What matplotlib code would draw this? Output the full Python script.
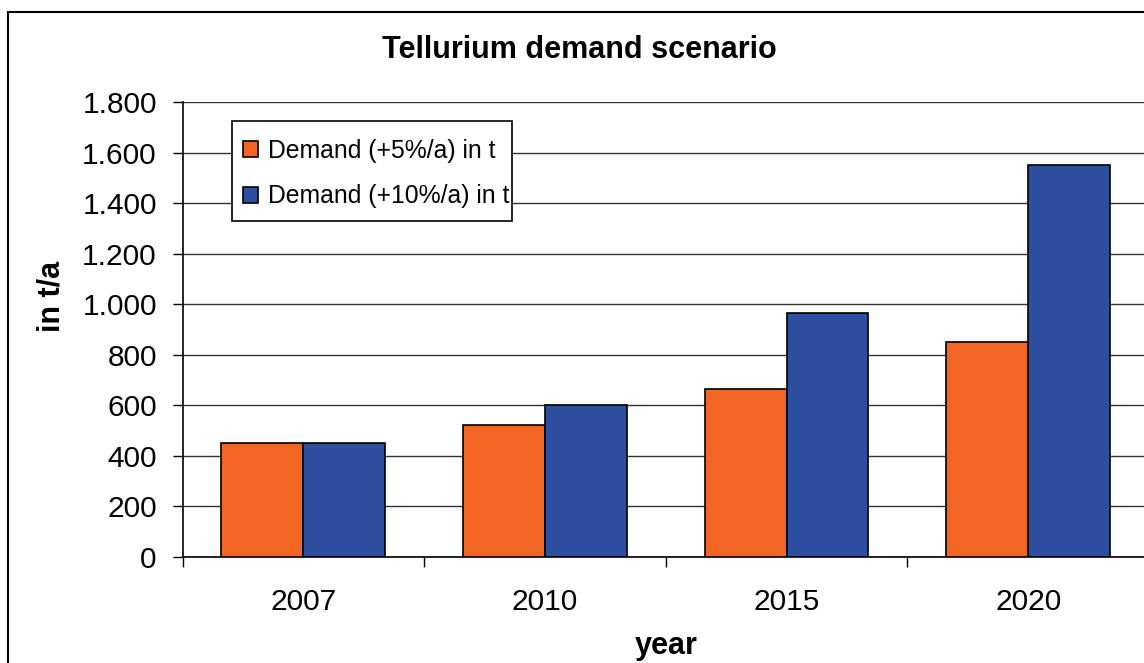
import matplotlib
matplotlib.use("Agg")
import matplotlib.pyplot as plt
from matplotlib.ticker import FuncFormatter, FixedLocator
from matplotlib.patches import Rectangle
import numpy as np

plt.rcParams['font.family'] = ['Liberation Sans', 'DejaVu Sans']

years = ["2007", "2010", "2015", "2020"]
demand_5 = [450, 521, 665, 848]
demand_10 = [450, 599, 965, 1551]
series_labels = ["Demand (+5%/a) in t", "Demand (+10%/a) in t"]
title = "Tellurium demand scenario"
xlabel = "year"
ylabel = "in t/a"

W, H = 1144, 663
fig = plt.figure(figsize=(W / 100, H / 100), dpi=100)

# figure border (cropped at right/bottom)
fig.patches.append(Rectangle((8 / W, -0.1), 1.2, 1 - 12 / H + 0.1, transform=fig.transFigure,
                             fill=False, edgecolor='black', lw=1.5, zorder=0))

ax = fig.add_axes([182.5 / W, 1 - 556.7 / H, 966.5 / W, (556.7 - 102) / H])

x = np.arange(len(years))
w = 0.339
ax.bar(x - w / 2, demand_5, w, color='#F26522', edgecolor='black', lw=1.2,
       label=series_labels[0], zorder=3)
ax.bar(x + w / 2, demand_10, w, color='#2E4F9F', edgecolor='black', lw=1.2,
       label=series_labels[1], zorder=3)

ax.set_xlim(-0.5, 3.5)
ax.set_ylim(0, 1800)
ax.set_yticks(np.arange(0, 1801, 200))
ax.yaxis.set_major_formatter(FuncFormatter(lambda v, p: f"{v:,.0f}".replace(",", ".")))
ax.grid(axis='y', color='#333333', lw=1.0, zorder=0)
ax.set_axisbelow(True)

ax.xaxis.set_major_locator(FixedLocator([-0.5, 0.5, 1.5, 2.5, 3.5]))
ax.xaxis.set_major_formatter(FuncFormatter(lambda v, p: ""))
ax.xaxis.set_minor_locator(FixedLocator(list(x)))
ax.set_xticklabels(years, minor=True)
ax.tick_params(axis='x', which='major', direction='out', length=7, width=1)
ax.tick_params(axis='x', which='minor', length=0, pad=22.5, labelsize=21.5)
ax.tick_params(axis='y', direction='out', length=7, width=1, pad=11.5, labelsize=21.5)

for s in ['top', 'right']:
    ax.spines[s].set_visible(False)
ax.spines['left'].set_linewidth(1.2)
ax.spines['bottom'].set_linewidth(1.2)

fig.text(579.5 / W, 1 - 50 / H, title, ha='center', va='center', fontsize=22, fontweight='bold')
fig.text(666 / W, 1 - 646 / H, xlabel, ha='center', va='center', fontsize=22, fontweight='bold')
fig.text(52 / W, 1 - 296 / H, ylabel, ha='center', va='center', fontsize=22, fontweight='bold',
         rotation=90)

# legend box
box = Rectangle((232 / W, 1 - 221 / H), 280 / W, 100 / H, transform=fig.transFigure,
                facecolor='white', edgecolor='black', lw=1.2, zorder=5, clip_on=False)
ax.add_patch(box)
leg = ax.legend(loc='upper left', bbox_to_anchor=(243 / W, 1 - 139 / H),
                bbox_transform=fig.transFigure, borderaxespad=0, borderpad=0, fontsize=17.8,
                frameon=False, handlelength=0.62, handleheight=0.62,
                handletextpad=0.38, labelspacing=0.86)
leg.set_zorder(6)

fig.savefig("out.png", dpi=100)
